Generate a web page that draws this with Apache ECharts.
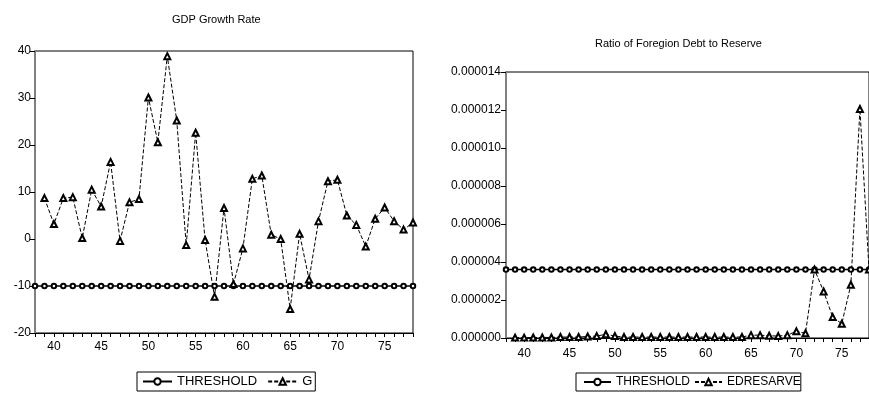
<!DOCTYPE html>
<html>
<head>
<meta charset="utf-8">
<script src="https://cdn.jsdelivr.net/npm/echarts@6/dist/echarts.min.js"></script>
<style>
  html, body { margin: 0; padding: 0; background: #fff; }
  #chart { width: 869px; height: 394px; }
</style>
</head>
<body>
<div id="chart"></div>
<script>
// years 38..78
const years = [];
for (let y = 38; y <= 78; y++) years.push(String(y));

// GDP growth rate (G), starts at 39
const gValues = [null,
  8.7, 3.2, 8.7, 8.9, 0.2, 10.5, 6.9, 16.4, -0.4, 7.8,
  8.5, 30.1, 20.6, 38.9, 25.2, -1.3, 22.6, -0.2, -12.3, 6.6,
  -9.6, -2.0, 12.8, 13.5, 0.9, 0.0, -14.9, 1.1, -8.6, 3.8,
  12.3, 12.6, 5.0, 3.0, -1.6, 4.3, 6.7, 3.8, 2.0, 3.5];
const gThreshold = years.map(() => -10);

// foreign debt / reserve ratio (x 1e-6), starts at 39
const edValuesMicro = [null,
  0.02, 0.02, 0.03, 0.03, 0.03, 0.05, 0.05, 0.05, 0.08, 0.1,
  0.2, 0.1, 0.05, 0.05, 0.05, 0.05, 0.05, 0.05, 0.05, 0.05,
  0.05, 0.05, 0.05, 0.05, 0.05, 0.05, 0.15, 0.15, 0.12, 0.1,
  0.15, 0.35, 0.25, 3.6, 2.45, 1.1, 0.75, 2.8, 12.05, 3.6];
const edValues = edValuesMicro.map((v) => (v == null ? null : v * 1e-6));
const edThreshold = years.map(() => 3.6e-6);

const font = "Liberation Sans, Arial, sans-serif";

const xAxisBase = (gridIndex, margin) => ({
  type: "category",
  gridIndex,
  data: years,
  boundaryGap: false,
  axisLine: { onZero: false, lineStyle: { color: "#000", width: 1 } },
  axisTick: { interval: 0, length: 4, lineStyle: { color: "#000" } },
  axisLabel: {
    interval: (i, v) => Number(v) % 5 === 0,
    color: "#000",
    fontSize: 12,
    fontFamily: font,
    margin,
  },
  splitLine: { show: false },
});

const thresholdStyle = {
  symbol: "emptyCircle", symbolSize: 4.5, showAllSymbol: true,
  lineStyle: { color: "#000", width: 1.5 },
  itemStyle: { color: "#000", borderWidth: 1 },
};
const dashedStyle = {
  symbol: "emptyTriangle", symbolSize: 6, showAllSymbol: true,
  lineStyle: { color: "#000", width: 1, type: [4, 2] },
  itemStyle: { color: "#000", borderWidth: 1 },
};

const chart = echarts.init(document.getElementById("chart"), undefined, { renderer: "canvas" });
chart.setOption({
  animation: false,
  backgroundColor: "#fff",
  textStyle: { fontFamily: font },
  title: [
    { text: "GDP Growth Rate", left: 167, top: 9,
      textStyle: { fontSize: 11, fontWeight: "normal", color: "#000", fontFamily: font } },
    { text: "Ratio of Foregion Debt to Reserve", left: 590, top: 33,
      textStyle: { fontSize: 11, fontWeight: "normal", color: "#000", fontFamily: font } },
  ],
  legend: [
    {
      data: ["THRESHOLD", "G"],
      left: 137, top: 372,
      borderColor: "#000", borderWidth: 1, padding: [3, 3, 3, 5],
      itemWidth: 29, itemHeight: 8, itemGap: 10,
      textStyle: { fontSize: 13, color: "#000", fontFamily: font },
    },
    {
      data: ["THRESHOLD", "EDRESARVE"],
      left: 576, top: 373,
      borderColor: "#000", borderWidth: 1, padding: [3, 0, 3, 7],
      itemWidth: 27, itemHeight: 8, itemGap: 4,
      textStyle: { fontSize: 12, color: "#000", fontFamily: font },
    },
  ],
  grid: [
    { left: 35, top: 51, width: 378, height: 282, show: true, borderColor: "#000", borderWidth: 1 },
    { left: 506, top: 72, width: 365, height: 266, show: true, borderColor: "#000", borderWidth: 1 },
  ],
  xAxis: [xAxisBase(0, 8), xAxisBase(1, 10)],
  yAxis: [
    {
      type: "value", gridIndex: 0, min: -20, max: 40, interval: 10,
      axisLine: { show: true, lineStyle: { color: "#808080", width: 2 } },
      axisTick: { show: true, length: 5, lineStyle: { color: "#000" } },
      axisLabel: { color: "#000", fontSize: 12, fontFamily: font, margin: 4 },
      splitLine: { show: false },
    },
    {
      type: "value", gridIndex: 1, min: 0, max: 0.000014, interval: 0.000002,
      axisLine: { show: true, lineStyle: { color: "#808080", width: 2 } },
      axisTick: { show: true, length: 5, lineStyle: { color: "#000" } },
      axisLabel: { color: "#000", fontSize: 12, fontFamily: font, margin: 5,
        formatter: (v) => v.toFixed(6) },
      splitLine: { show: false },
    },
  ],
  series: [
    Object.assign({ name: "THRESHOLD", type: "line", xAxisIndex: 0, yAxisIndex: 0, data: gThreshold }, thresholdStyle),
    Object.assign({ name: "G", type: "line", xAxisIndex: 0, yAxisIndex: 0, data: gValues }, dashedStyle),
    Object.assign({ name: "THRESHOLD", type: "line", xAxisIndex: 1, yAxisIndex: 1, data: edThreshold }, thresholdStyle),
    Object.assign({ name: "EDRESARVE", type: "line", xAxisIndex: 1, yAxisIndex: 1, data: edValues }, dashedStyle),
  ],
});
</script>
</body>
</html>
